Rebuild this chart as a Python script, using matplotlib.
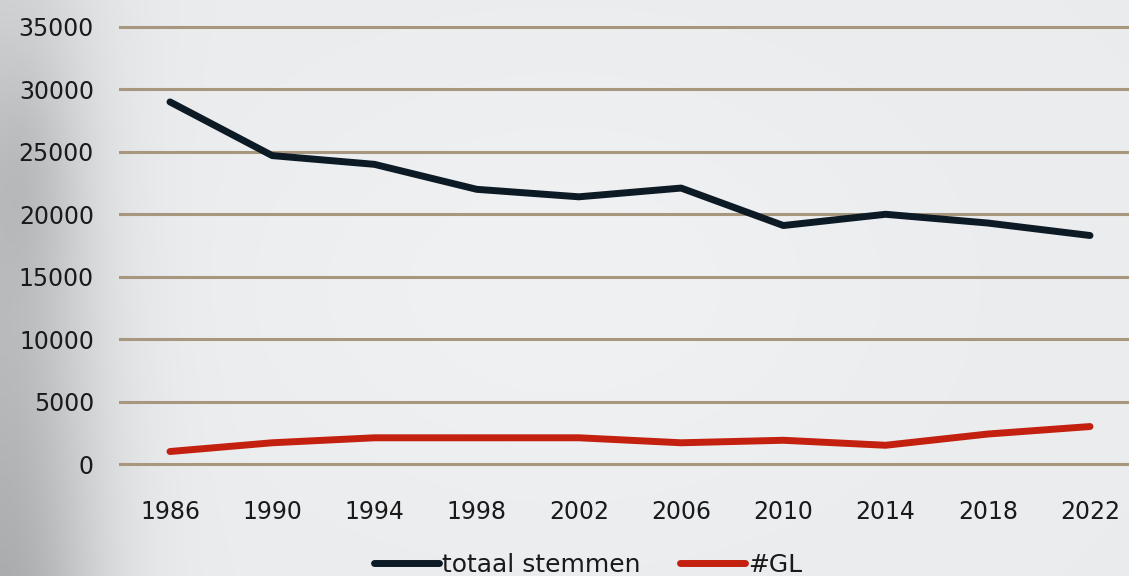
import numpy as np
import matplotlib
matplotlib.use("Agg")
import matplotlib.pyplot as plt

years = ["1986", "1990", "1994", "1998", "2002", "2006", "2010", "2014", "2018", "2022"]
totaal_stemmen = [29000, 24700, 24000, 22000, 21400, 22100, 19100, 20000, 19300, 18300]
gl_stemmen = [1000, 1700, 2100, 2100, 2100, 1700, 1900, 1500, 2400, 3000]
y_ticks = [0, 5000, 10000, 15000, 20000, 25000, 30000, 35000]

W, H = 1129, 576
fig = plt.figure(figsize=(W / 100, H / 100), dpi=100)

# cloudy-ish background: light grey, darker towards the lower left
bg = fig.add_axes([0, 0, 1, 1])
yy, xx = np.mgrid[0:1:200j, 0:1:400j]
shade = 0.92 - 0.25 * np.exp(-((xx - 0.0) / 0.09) ** 2) * (0.4 + 0.6 * yy)
shade -= 0.06 * np.exp(-((xx - 0.02) / 0.05) ** 2 - ((yy - 0.3) / 0.2) ** 2)
shade += 0.02 * np.exp(-((xx - 0.5) / 0.3) ** 2 - ((yy - 0.5) / 0.4) ** 2)
rgb = np.dstack([shade, shade + 0.005, shade + 0.012]).clip(0, 1)
bg.imshow(rgb, aspect="auto", extent=[0, 1, 0, 1], origin="upper")
bg.axis("off")

# plot area in pixels: 0 -> y=464, 35000 -> y=27; categories 1986 at x=170, 2022 at x=1090
pad = 300
px_per = (464 - 27) / 35000
bottom = (H - 464 - pad * px_per) / H
top = (H - 27 + pad * px_per) / H
step = (1090 - 170) / 9
left = (170 - step / 2) / W
right = (1090 + step / 2) / W
ax = fig.add_axes([left, bottom, right - left, top - bottom])
ax.patch.set_alpha(0)

x = np.arange(len(years))
ax.set_xlim(-0.5, len(years) - 0.5)
ax.set_ylim(-pad, 35000 + pad)

for t in y_ticks:
    ax.axhline(t, color="#a8977f", lw=2.2, zorder=1)

ax.plot(x, totaal_stemmen, color="#0c1a26", lw=5.0, solid_capstyle="round",
        solid_joinstyle="round", label="totaal stemmen", zorder=3)
ax.plot(x, gl_stemmen, color="#c3200f", lw=5.0, solid_capstyle="round",
        solid_joinstyle="round", label="#GL", zorder=3)

ax.set_xticks(x)
ax.set_xticklabels(years)
ax.set_yticks(y_ticks)
ax.set_yticklabels([str(t) for t in y_ticks])
ax.tick_params(axis="both", length=0, labelsize=17, labelcolor="#1a1a1a")
ax.tick_params(axis="y", pad=18)
ax.tick_params(axis="x", pad=23)
for s in ax.spines.values():
    s.set_visible(False)

leg = fig.legend(loc="center", bbox_to_anchor=(588 / W, 1 - 565 / H), ncol=2,
                 frameon=False, fontsize=18, handlelength=2.6, handletextpad=0.1,
                 columnspacing=1.6)
for t in leg.get_texts():
    t.set_color("#1a1a1a")

fig.savefig("out.png", dpi=100)
